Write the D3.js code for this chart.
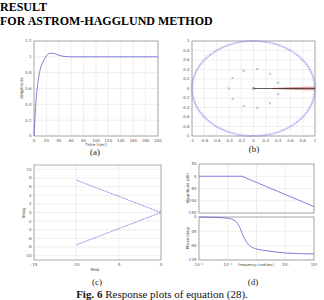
<!DOCTYPE html>
<html>
<head>
<meta charset="utf-8">
<script src="https://cdn.jsdelivr.net/npm/d3@7"></script>
<style>
  body { margin: 0; background: #fff; }
  svg { display: block; }
</style>
</head>
<body>
<script>
const W = 324, H = 300;

// (a) step response
const stepTime = [0, 2, 4, 6, 8, 10, 14, 18, 22, 26, 30, 35, 40, 45, 50, 60, 80, 120, 160, 200];
const stepAmp = [0, 0.3, 0.52, 0.66, 0.76, 0.84, 0.93, 0.99, 1.03, 1.045, 1.045, 1.035, 1.02, 1.01, 1.005, 1, 1, 1, 1, 1];
const stepXTicks = [0, 20, 40, 60, 80, 100, 120, 140, 160, 180, 200];
const stepYTicks = [0, 0.2, 0.4, 0.6, 0.8, 1, 1.2];

// (b) pole map
const ringCount = 160;
const innerPolesX = [-0.40, -0.34, -0.34, -0.16, -0.16, 0.06, 0.06, 0.27, 0.27, 0.40, 0.40];
const innerPolesY = [0, 0.22, -0.22, 0.37, -0.37, 0.41, -0.41, 0.31, -0.31, 0.12, -0.12];
const wedgeEndY = [-0.035, -0.02, -0.008, 0.008, 0.02, 0.035];
const mapTicks = [-1, -0.8, -0.6, -0.4, -0.2, 0, 0.2, 0.4, 0.6, 0.8, 1];

// (c) root lines
const upperRe = [-10, 0], upperIm = [7.5, 0];
const lowerRe = [-10, 0], lowerIm = [-7.5, 0];
const rlXTicks = [-15, -10, -5, 0];
const rlYTicks = [-10, -8, -6, -4, -2, 0, 2, 4, 6, 8, 10];

// (d) bode
const magFreq = [0.01, 0.31, 100];
const magDb = [0, 0, -124];
const phFreq = [0.01, 0.03, 0.1, 0.18, 0.27, 0.35, 0.48, 0.69, 1.05, 2.3, 10, 100];
const phDeg = [0, -1, -4, -12, -35, -61, -82, -95, -101, -106, -113, -116];
const magTicks = [50, 0, -50, -100, -150];
const phTicks = [0, -45, -90, -135];
const freqTicks = [0.01, 0.1, 1, 10, 100];
const freqLabels = ["10\u207B\u00B2", "10\u207B\u00B9", "", "10\u00B9", "10\u00B2"];

const blue = "#5555d6";
const tickFont = "DejaVu Sans";

const svg = d3.select("body").append("svg").attr("width", W).attr("height", H);

// heading text
svg.append("text").attr("x", 0).attr("y", 11)
  .attr("font-family", "Liberation Serif").attr("font-weight", "bold").attr("font-size", "12px")
  .text("RESULT");
svg.append("text").attr("x", 0).attr("y", 25)
  .attr("font-family", "Liberation Serif").attr("font-weight", "bold").attr("font-size", "12px")
  .text("FOR ASTROM-HAGGLUND METHOD");

// draws frame, grid and ticks for one axes box
function frame(x, y, xt, yt, opts) {
  const g = svg.append("g");
  const [x0, x1] = x.range(), [y0, y1] = y.range();
  g.selectAll(".gx").data(xt).enter().append("line")
    .attr("x1", d => x(d)).attr("x2", d => x(d)).attr("y1", y1).attr("y2", y0)
    .attr("stroke", "#e4e4e4").attr("stroke-width", 0.6);
  g.selectAll(".gy").data(yt).enter().append("line")
    .attr("x1", x0).attr("x2", x1).attr("y1", d => y(d)).attr("y2", d => y(d))
    .attr("stroke", "#e4e4e4").attr("stroke-width", 0.6);
  g.append("rect").attr("x", x0).attr("y", y1).attr("width", x1 - x0).attr("height", y0 - y1)
    .attr("fill", "none").attr("stroke", "#8a8a8a").attr("stroke-width", 0.7);
  if (opts.xLabels !== false) {
    g.selectAll(".tx").data(xt).enter().append("text")
      .attr("x", d => x(d)).attr("y", y0 + 5.5).attr("text-anchor", "middle")
      .attr("font-family", tickFont).attr("font-size", "4px").attr("fill", "#555")
      .text((d, i) => opts.xFmt ? opts.xFmt(d, i) : d);
  }
  g.selectAll(".ty").data(yt).enter().append("text")
    .attr("x", x0 - 2.5).attr("y", d => y(d) + 1.4).attr("text-anchor", "end")
    .attr("font-family", tickFont).attr("font-size", "4px").attr("fill", "#555")
    .text(d => d);
  return g;
}

function label(x, y, txt, rotate, size) {
  const t = svg.append("text").attr("x", x).attr("y", y).attr("text-anchor", "middle")
    .attr("font-family", tickFont).attr("font-size", (size || 4.2) + "px").attr("fill", "#444").text(txt);
  if (rotate) t.attr("transform", `rotate(-90,${x},${y})`);
}

function caption(x, y, txt) {
  svg.append("text").attr("x", x).attr("y", y).attr("text-anchor", "middle")
    .attr("font-family", "Liberation Serif").attr("font-size", "9px").attr("fill", "#222").text(txt);
}

// ---- (a)
const ax = d3.scaleLinear().domain([0, 200]).range([34, 158]);
const ay = d3.scaleLinear().domain([0, 1.2]).range([136, 41]);
frame(ax, ay, stepXTicks, stepYTicks, {});
svg.append("path")
  .datum(stepTime.map((t, i) => [t, stepAmp[i]]))
  .attr("d", d3.line().x(d => ax(d[0])).y(d => ay(d[1])).curve(d3.curveMonotoneX))
  .attr("fill", "none").attr("stroke", blue).attr("stroke-width", 0.75);
label(96, 146, "Time (sec)");
label(23, 88, "Amplitude", true);
caption(95, 155, "(a)");

// ---- (b)
const bx = d3.scaleLinear().domain([-1, 1]).range([192, 315]);
const by = d3.scaleLinear().domain([-1, 1]).range([136, 41]);
frame(bx, by, mapTicks, mapTicks, {});
const ring = d3.range(ringCount).map(i => 2 * Math.PI * i / ringCount);
const cross = (g, px, py, s, col) => {
  g.append("path")
    .attr("d", `M${px - s},${py - s}L${px + s},${py + s}M${px - s},${py + s}L${px + s},${py - s}`)
    .attr("stroke", col).attr("stroke-width", 0.45);
};
const bg = svg.append("g");
ring.forEach(a => cross(bg, bx(Math.cos(a)), by(Math.sin(a)), 1, "#7474e4"));
innerPolesX.forEach((px, i) => cross(bg, bx(px), by(innerPolesY[i]), 1.1, "#6a6ae0"));
wedgeEndY.forEach(e => {
  bg.append("line").attr("x1", bx(0.3)).attr("y1", by(0)).attr("x2", bx(1)).attr("y2", by(e))
    .attr("stroke", "#c87070").attr("stroke-width", 0.5);
});
bg.append("line").attr("x1", bx(0)).attr("y1", by(0)).attr("x2", bx(1)).attr("y2", by(0))
  .attr("stroke", "#222").attr("stroke-width", 0.7);
bg.append("circle").attr("cx", bx(0)).attr("cy", by(0)).attr("r", 1.1)
  .attr("fill", "none").attr("stroke", "#333").attr("stroke-width", 0.5);
caption(254, 152, "(b)");

// ---- (c)
const cx = d3.scaleLinear().domain([-15, 0]).range([34, 161]);
const cy = d3.scaleLinear().domain([-11, 11]).range([260, 165]);
frame(cx, cy, rlXTicks, rlYTicks, {});
[[upperRe, upperIm], [lowerRe, lowerIm]].forEach(([re, im]) => {
  svg.append("path")
    .datum(re.map((r, i) => [r, im[i]]))
    .attr("d", d3.line().x(d => cx(d[0])).y(d => cy(d[1])))
    .attr("fill", "none").attr("stroke", blue).attr("stroke-width", 0.8)
    .attr("stroke-dasharray", "1,0.7");
});
label(95, 271, "Real");
label(25, 213, "Imag", true);
caption(97, 285, "(c)");

// ---- (d)
const dx = d3.scaleLog().domain([0.01, 100]).range([199, 314]);
const dmy = d3.scaleLinear().domain([-150, 50]).range([213, 164]);
const dpy = d3.scaleLinear().domain([-135, 0]).range([260, 217]);
frame(dx, dmy, freqTicks, magTicks, { xLabels: false });
frame(dx, dpy, freqTicks, phTicks, { xFmt: (d, i) => freqLabels[i] });
svg.append("path")
  .datum(magFreq.map((f, i) => [f, magDb[i]]))
  .attr("d", d3.line().x(d => dx(d[0])).y(d => dmy(d[1])))
  .attr("fill", "none").attr("stroke", blue).attr("stroke-width", 0.75);
svg.append("path")
  .datum(phFreq.map((f, i) => [f, phDeg[i]]))
  .attr("d", d3.line().x(d => dx(d[0])).y(d => dpy(d[1])).curve(d3.curveMonotoneX))
  .attr("fill", "none").attr("stroke", blue).attr("stroke-width", 0.75);
label(256, 266, "Frequency (rad/sec)", false, 3.6);
label(189, 188, "Magnitude (dB)", true, 3.8);
label(189, 238, "Phase (deg)", true, 3.8);
caption(253, 285, "(d)");

// figure caption
const fc = svg.append("text").attr("x", 162).attr("y", 297.5).attr("text-anchor", "middle")
  .attr("font-family", "Liberation Serif").attr("font-size", "11px").attr("fill", "#111");
fc.append("tspan").attr("font-weight", "bold").text("Fig. 6 ");
fc.append("tspan").text("Response plots of equation (28).");
</script>
</body>
</html>
